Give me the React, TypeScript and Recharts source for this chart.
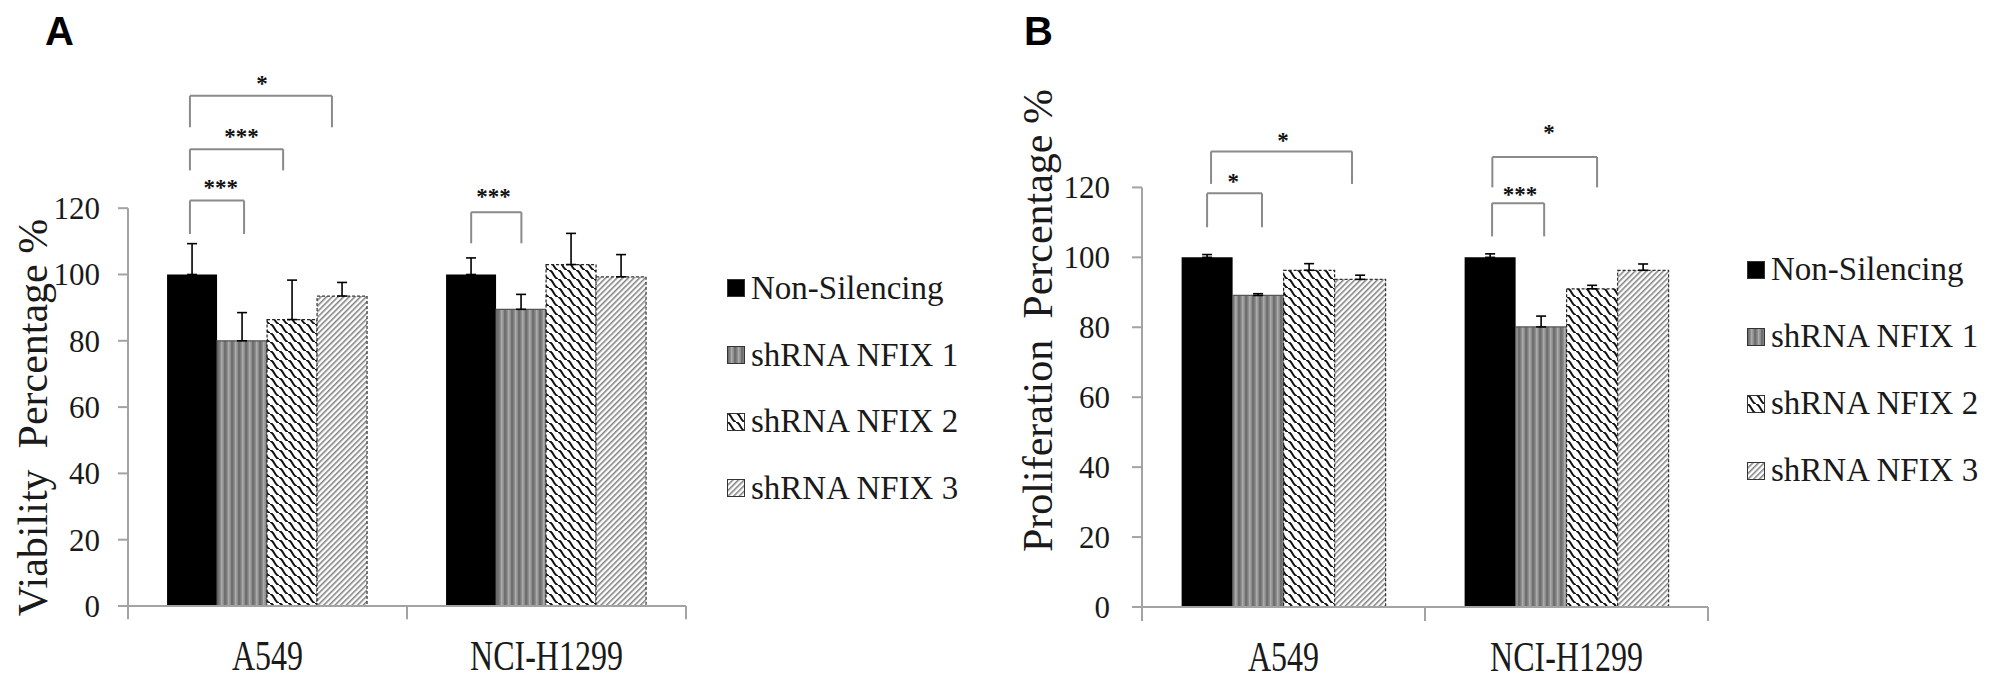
import React from 'react';
import {
  BarChart,
  Bar,
  XAxis,
  YAxis,
  ErrorBar,
  Legend,
  Label,
  ReferenceLine,
  ReferenceDot,
} from 'recharts';

const categories = ['A549', 'NCI-H1299'];
const seriesNames = ['Non-Silencing', 'shRNA NFIX 1', 'shRNA NFIX 2', 'shRNA NFIX 3'];
const yTicks = [0, 20, 40, 60, 80, 100, 120];

// panel A - viability (mean, upper SD)
const viabilityNonSilencing = [100, 100];
const viabilityNfix1 = [80, 89.5];
const viabilityNfix2 = [86.4, 103];
const viabilityNfix3 = [93.5, 99.3];
const viabilityErrNonSilencing = [9.3, 5];
const viabilityErrNfix1 = [8.5, 4.5];
const viabilityErrNfix2 = [11.9, 9.4];
const viabilityErrNfix3 = [4.1, 6.7];

// panel B - proliferation
const proliferationNonSilencing = [100, 100];
const proliferationNfix1 = [89.1, 80.1];
const proliferationNfix2 = [96.3, 91];
const proliferationNfix3 = [93.7, 96.3];
const proliferationErrNonSilencing = [0.8, 1];
const proliferationErrNfix1 = [0.5, 3.1];
const proliferationErrNfix2 = [1.9, 1];
const proliferationErrNfix3 = [1.2, 1.8];

// significance brackets, x on a 0..2 category scale, y in %
const viabilityBrackets = [
  { x1: 0.222, x2: 0.416, top: 122.3, leg: 112.2, stars: '***', lx: 0.332, ly: 127.6 },
  { x1: 0.222, x2: 0.556, top: 137.8, leg: 131.4, stars: '***', lx: 0.407, ly: 143 },
  { x1: 0.222, x2: 0.731, top: 153.9, leg: 144.4, stars: '*', lx: 0.48, ly: 159 },
  { x1: 1.23, x2: 1.41, top: 118.8, leg: 109.4, stars: '***', lx: 1.31, ly: 125 },
];
const proliferationBrackets = [
  { x1: 0.23, x2: 0.424, top: 118.3, leg: 108.6, stars: '*', lx: 0.322, ly: 123 },
  { x1: 0.244, x2: 0.742, top: 130.3, leg: 121, stars: '*', lx: 0.498, ly: 134.6 },
  { x1: 1.237, x2: 1.421, top: 115.5, leg: 106, stars: '***', lx: 1.336, ly: 119.4 },
  { x1: 1.238, x2: 1.608, top: 128.7, leg: 120, stars: '*', lx: 1.438, ly: 136.9 },
];

const SERIF = '"Liberation Serif", "Times New Roman", serif';
const AXIS_GREY = '#a3a3a3';
const TEXT = '#1a1a1a';

const buildRows = (vals: number[][], errs: number[][]) =>
  categories.map((name, i) => ({
    name,
    slot: i + 0.5,
    s0: vals[0][i],
    s1: vals[1][i],
    s2: vals[2][i],
    s3: vals[3][i],
    e0: [0, errs[0][i]],
    e1: [0, errs[1][i]],
    e2: [0, errs[2][i]],
    e3: [0, errs[3][i]],
  }));

const viabilityData = buildRows(
  [viabilityNonSilencing, viabilityNfix1, viabilityNfix2, viabilityNfix3],
  [viabilityErrNonSilencing, viabilityErrNfix1, viabilityErrNfix2, viabilityErrNfix3]
);
const proliferationData = buildRows(
  [proliferationNonSilencing, proliferationNfix1, proliferationNfix2, proliferationNfix3],
  [proliferationErrNonSilencing, proliferationErrNfix1, proliferationErrNfix2, proliferationErrNfix3]
);

const Patterns = ({ id }: { id: string }) => (
  <defs>
    <pattern id={`${id}-stripe`} width="7" height="7" patternUnits="userSpaceOnUse">
      <rect width="7" height="7" fill="#8d8d8d" />
      <rect x="0" width="2.5" height="7" fill="#6f6f6f" />
      <rect x="4" width="1.5" height="7" fill="#ababab" />
    </pattern>
    <pattern id={`${id}-wave`} width="9" height="9" patternUnits="userSpaceOnUse">
      <rect width="9" height="9" fill="#fff" />
      <path d="M0 0 C 4 0, 5 9, 9 9" stroke="#111" strokeWidth="2" fill="none" />
      <path d="M-9 0 C -5 0, -4 9, 0 9" stroke="#111" strokeWidth="2" fill="none" />
      <path d="M9 0 C 13 0, 14 9, 18 9" stroke="#111" strokeWidth="2" fill="none" />
    </pattern>
    <pattern
      id={`${id}-hatch`}
      width="4"
      height="4"
      patternUnits="userSpaceOnUse"
      patternTransform="rotate(45)"
    >
      <rect width="4" height="4" fill="#fff" />
      <rect width="1.6" height="4" fill="#858585" />
    </pattern>
  </defs>
);

const CategoryTick = ({ x, y, payload }: any) => (
  <g transform={`translate(${x},${y + 64}) scale(1,1.3)`}>
    <text textAnchor="middle" fontFamily={SERIF} fontSize={32} fill={TEXT}>
      {payload.value}
    </text>
  </g>
);

const LegendBox = ({ payload, rowHeight }: any) => (
  <div style={{ fontFamily: SERIF, fontSize: 33, color: TEXT }}>
    {(payload || []).map((p: any) => (
      <div
        key={p.value}
        style={{ display: 'flex', alignItems: 'center', height: rowHeight, whiteSpace: 'nowrap' }}
      >
        <svg width={18} height={18} style={{ marginRight: 6, flex: 'none' }}>
          <rect x={0.5} y={0.5} width={17} height={17} fill={p.color} stroke="#333" />
        </svg>
        <span>{p.value}</span>
      </div>
    ))}
  </div>
);

interface PanelProps {
  id: string;
  letter: string;
  letterX: number;
  title: string;
  titleX: number;
  titleDy: number;
  titleSize: number;
  data: any[];
  brackets: typeof viabilityBrackets;
  yMax: number;
  width: number;
  margin: { top: number; right: number; bottom: number; left: number };
  yAxisWidth: number;
  tickMargin: number;
  legendLeft: number;
  legendTop: number;
  legendRow: number;
}

const Panel = (p: PanelProps) => {
  const fills = ['#000', `url(#${p.id}-stripe)`, `url(#${p.id}-wave)`, `url(#${p.id}-hatch)`];
  const strokes = ['none', '#555', '#222', '#333'];
  const dashes = [undefined, undefined, '3 2', '3 2'];
  return (
    <BarChart
      width={p.width}
      height={699}
      data={p.data}
      margin={p.margin}
      barGap={0}
      barCategoryGap="14%"
    >
      <Patterns id={p.id} />
      <text x={p.letterX} y={45} fontFamily='"Liberation Sans", Arial, sans-serif' fontWeight="bold" fontSize={40} fill="#000">
        {p.letter}
      </text>
      <XAxis
        dataKey="name"
        axisLine={{ stroke: AXIS_GREY, strokeWidth: 2 }}
        tickLine={false}
        tickSize={0}
        tickMargin={0}
        height={60}
        tick={<CategoryTick />}
      />
      <XAxis xAxisId="n" dataKey="slot" type="number" domain={[0, 2]} allowDataOverflow hide />
      <YAxis
        width={p.yAxisWidth}
        domain={[0, p.yMax]}
        allowDataOverflow
        ticks={yTicks}
        interval={0}
        axisLine={false}
        tickLine={{ stroke: AXIS_GREY, strokeWidth: 2 }}
        tickSize={10}
        tickMargin={p.tickMargin}
        tick={{ fontFamily: SERIF, fontSize: 31, fill: TEXT }}
        label={
          <Label
            content={(lp: any) => {
              const vb = lp.viewBox || { y: 0, height: 0 };
              const cy = vb.y + vb.height / 2 + p.titleDy;
              return (
                <text
                  x={p.titleX}
                  y={cy}
                  transform={`rotate(-90 ${p.titleX} ${cy})`}
                  textAnchor="middle"
                  fontFamily={SERIF}
                  fontSize={p.titleSize}
                  fill={TEXT}
                  style={{ whiteSpace: 'pre' }}
                >
                  {p.title}
                </text>
              );
            }}
          />
        }
      />
      <Legend
        layout="vertical"
        align="center"
        verticalAlign="middle"
        wrapperStyle={{ left: p.legendLeft, top: p.legendTop, width: 280 }}
        content={(lp: any) => <LegendBox payload={lp.payload} rowHeight={p.legendRow} />}
      />
      {seriesNames.map((name, i) => (
        <Bar
          key={name}
          dataKey={`s${i}`}
          name={name}
          fill={fills[i]}
          stroke={strokes[i]}
          strokeWidth={1.2}
          strokeDasharray={dashes[i]}
          isAnimationActive={false}
        >
          <ErrorBar dataKey={`e${i}`} direction="y" width={5} stroke="#000" strokeWidth={1.6} />
        </Bar>
      ))}
      {/* y axis line only up to 120, and the Excel style boundary ticks */}
      <ReferenceLine
        xAxisId="n"
        segment={[{ x: 0, y: -4 }, { x: 0, y: 120 }]}
        stroke={AXIS_GREY}
        strokeWidth={2}
        ifOverflow="visible"
      />
      {[1, 2].map((b) => (
        <ReferenceLine
          key={`b${b}`}
          xAxisId="n"
          segment={[{ x: b, y: -4 }, { x: b, y: 0 }]}
          stroke={AXIS_GREY}
          strokeWidth={2}
          ifOverflow="visible"
        />
      ))}
      {p.brackets.map((br, i) => (
        <React.Fragment key={`br${i}`}>
          <ReferenceLine
            xAxisId="n"
            segment={[{ x: br.x1, y: br.leg }, { x: br.x1, y: br.top }]}
            stroke="#8a8a8a"
            strokeWidth={2}
            ifOverflow="visible"
          />
          <ReferenceLine
            xAxisId="n"
            segment={[{ x: br.x1, y: br.top }, { x: br.x2, y: br.top }]}
            stroke="#8a8a8a"
            strokeWidth={2}
            ifOverflow="visible"
          />
          <ReferenceLine
            xAxisId="n"
            segment={[{ x: br.x2, y: br.top }, { x: br.x2, y: br.leg }]}
            stroke="#8a8a8a"
            strokeWidth={2}
            ifOverflow="visible"
          />
          <ReferenceDot
            xAxisId="n"
            x={br.lx}
            y={br.ly}
            r={0}
            ifOverflow="visible"
            shape={(sp: any) => (
              <text
                x={sp.cx}
                y={sp.cy + 12}
                textAnchor="middle"
                fontFamily={SERIF}
                fontWeight="bold"
                fontSize={23}
                fill="#111"
              >
                {br.stars}
              </text>
            )}
          />
        </React.Fragment>
      ))}
    </BarChart>
  );
};

export default function App() {
  return (
    <div
      style={{
        position: 'absolute',
        left: 0,
        top: 0,
        width: 2009,
        height: 699,
        background: '#fff',
        overflow: 'hidden',
      }}
    >
      <div style={{ position: 'absolute', left: 0, top: 0 }}>
        <Panel
          id="pa"
          letter="A"
          letterX={45}
          title={'Viability  Percentage %'}
          titleX={47}
          titleDy={85}
          titleSize={42}
          data={viabilityData}
          brackets={viabilityBrackets}
          yMax={165}
          width={1000}
          margin={{ top: 59, right: 314, bottom: 33, left: 0 }}
          yAxisWidth={128}
          tickMargin={18}
          legendLeft={727}
          legendTop={255}
          legendRow={66.7}
        />
      </div>
      <div style={{ position: 'absolute', left: 1000, top: 0 }}>
        <Panel
          id="pb"
          letter="B"
          letterX={24}
          title={'Proliferation  Percentage %'}
          titleX={52}
          titleDy={-33}
          titleSize={42}
          data={proliferationData}
          brackets={proliferationBrackets}
          yMax={145}
          width={1009}
          margin={{ top: 100, right: 301, bottom: 32, left: 0 }}
          yAxisWidth={142}
          tickMargin={22}
          legendLeft={747}
          legendTop={236}
          legendRow={67}
        />
      </div>
    </div>
  );
}
